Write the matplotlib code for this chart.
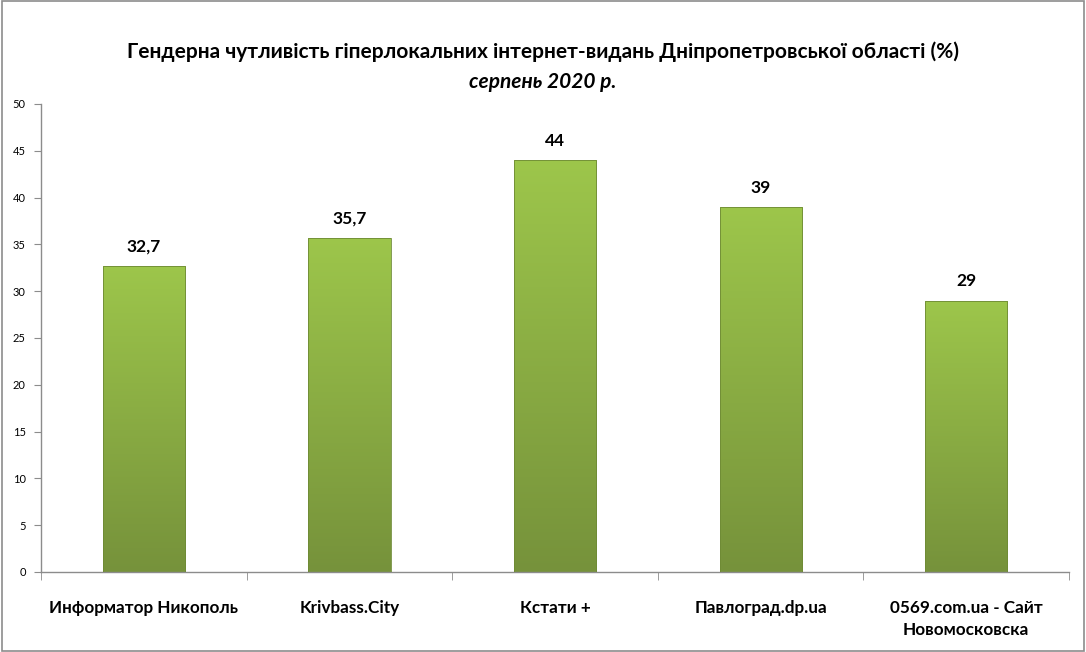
import matplotlib
matplotlib.use("Agg")
import matplotlib.pyplot as plt
import numpy as np
from matplotlib.colors import LinearSegmentedColormap
from matplotlib.patches import Rectangle

categories = ["Информатор Никополь", "Krivbass.City", "Кстати +", "Павлоград.dp.ua",
              "0569.com.ua - Сайт\nНовомосковска"]
values = [32.7, 35.7, 44, 39, 29]
value_labels = ["32,7", "35,7", "44", "39", "29"]
yticks = [0, 5, 10, 15, 20, 25, 30, 35, 40, 45, 50]
title = "Гендерна чутливість гіперлокальних інтернет-видань Дніпропетровської області (%)"
subtitle = "серпень 2020 р."

plt.rcParams['font.family'] = ['Lato', 'DejaVu Sans']

fig = plt.figure(figsize=(10.86, 6.52), dpi=100)
fig.patch.set_facecolor("white")
fig.add_artist(Rectangle((0.0015, 0.002), 0.997, 0.996, transform=fig.transFigure,
                         fill=False, edgecolor="#8c8c8c", linewidth=1.2))
ax = fig.add_axes([0.0378, 0.1227, 0.9466, 0.7178])

x = np.arange(len(categories))
bars = ax.bar(x, values, width=0.4, color="none", edgecolor="#6e8a35", linewidth=0.6, zorder=3)
cmap = LinearSegmentedColormap.from_list("g", ["#76923b", "#9dc64b"])
grad = np.linspace(0, 1, 256).reshape(-1, 1)
for b in bars:
    x0, w, h = b.get_x(), b.get_width(), b.get_height()
    im = ax.imshow(grad, cmap=cmap, aspect="auto", origin="lower",
                   extent=[x0, x0 + w, 0, h], zorder=2)
    im.set_clip_path(b)

for xi, v, lab in zip(x, values, value_labels):
    ax.text(xi, v + 1.2, lab, ha="center", va="bottom", fontsize=12.5, fontweight="bold")

ax.set_xlim(-0.5, len(categories) - 0.5)
ax.set_ylim(0, 50)
ax.set_yticks(yticks)
ax.set_yticklabels([str(t) for t in yticks], fontsize=8)
ax.set_xticks(x)
ax.set_xticklabels(categories, fontsize=12.3, fontweight="bold", linespacing=1.45)
ax.tick_params(axis="x", length=0, pad=20)
ax.set_xticks(np.arange(len(categories) + 1) - 0.5, minor=True)
ax.tick_params(axis="x", which="minor", length=6, color="#8c8c8c")
ax.tick_params(axis="y", length=5, color="#8c8c8c", pad=6)
for s in ["top", "right"]:
    ax.spines[s].set_visible(False)
for s in ["left", "bottom"]:
    ax.spines[s].set_color("#8c8c8c")
    ax.spines[s].set_linewidth(1)

fig.text(0.5, 0.921, title, ha="center", va="center", fontsize=15, fontweight="bold")
fig.text(0.5, 0.875, subtitle, ha="center", va="center", fontsize=15, fontweight="bold",
         style="italic")

fig.savefig("out.png", dpi=100)
